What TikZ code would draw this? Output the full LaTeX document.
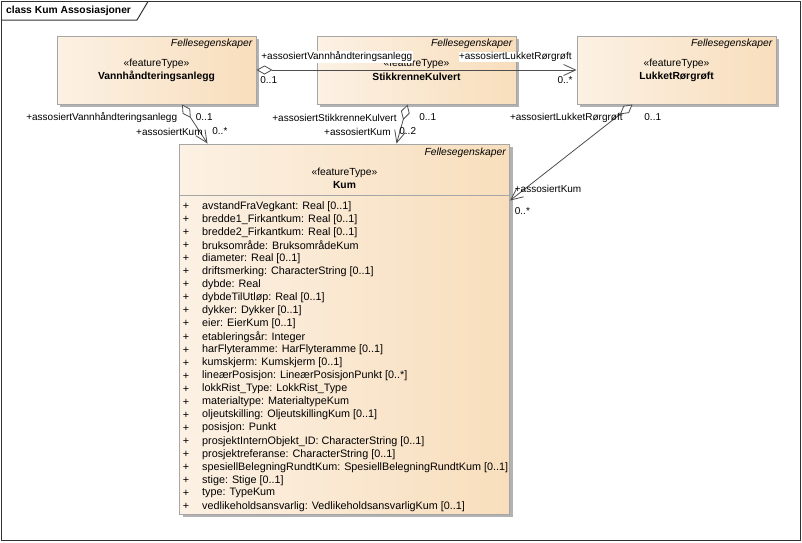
\documentclass[tikz,border=0pt]{standalone}
\usepackage{fontspec}
\setmainfont{Liberation Sans}
\usepackage{tikz}
\usetikzlibrary{positioning,arrows.meta,shadows}

\definecolor{boxleft}{HTML}{FCF1E4}
\definecolor{boxright}{HTML}{F8DEBC}
\definecolor{boxline}{HTML}{A6A6A6}
\definecolor{assocline}{HTML}{4D4D4D}
\newcommand\umlfont{\fontsize{10.3}{12}\selectfont}
\newcommand\attrfont{\fontsize{10.8}{12}\selectfont}
\newcommand\rolefont{\fontsize{10}{12}\selectfont}

\tikzset{
  umlbox/.style={draw=boxline, line width=1pt, left color=boxleft, right color=boxright,
    minimum width=199pt, minimum height=68pt, inner sep=0pt,
    drop shadow={shadow xshift=3pt, shadow yshift=-3pt, fill=black!30, opacity=1}},
  group/.style={font=\umlfont\itshape, anchor=east, inner sep=0pt},
  stereo/.style={inner sep=0pt},
  classname/.style={font=\umlfont\bfseries, inner sep=0pt},
  attrib/.style={font=\attrfont, inner sep=0pt},
  assoc/.style={draw=assocline, line width=0.8pt,
    arrows={Diamond[length=16pt,width=9pt,fill=white]-Straight Barb[length=12pt,width=11pt]}},
  role/.style={font=\rolefont, inner sep=0.5pt},
  rolebg/.style={role, fill=white},
  frameline/.style={draw=black!80, line width=1pt}
}

\begin{document}
\begin{tikzpicture}[x=1pt,y=1pt,node distance=260pt,on grid,font=\umlfont]
  \useasboundingbox (0,0) rectangle (802,-542);
  \draw[frameline] (1.5,-1.5) rectangle (800.5,-540.5);
  \draw[frameline] (1.5,-20) -- (137,-20) -- (148,-1.5);
  \node[anchor=west, font=\umlfont\bfseries, inner sep=0pt] (title) at (6,-11) {class Kum Assosiasjoner};

  \node[umlbox] (vann) at (156.5,-70) {};
  \node[umlbox] (stikk) [right=of vann] {};
  \node[umlbox] (lukket) [right=of stikk] {};
  \node[umlbox, minimum width=330pt, minimum height=370pt, anchor=north] (kum)
    at ([xshift=-72pt,yshift=-39pt]stikk.south) {};

  \foreach \cls/\clsname in {vann/Vannhåndteringsanlegg, stikk/StikkrenneKulvert, lukket/LukketRørgrøft} {
    \node[group] (\cls Group) at ([xshift=-4pt,yshift=-8pt]\cls.north east) {Fellesegenskaper};
    \node[stereo] (\cls Stereo) at ([yshift=-28pt]\cls.north) {«featureType»};
    \node[classname] (\cls Name) at ([yshift=-41pt]\cls.north) {\clsname};
  }

  \node[group] (kumGroup) at ([xshift=-4pt,yshift=-9pt]kum.north east) {Fellesegenskaper};
  \node[stereo] (kumStereo) at ([yshift=-29pt]kum.north) {«featureType»};
  \node[classname] (kumName) at ([yshift=-41pt]kum.north) {Kum};
  \draw[draw=boxline, line width=1pt] ([yshift=-52pt]kum.north west) -- ([yshift=-52pt]kum.north east);

  \foreach \attr [count=\i] in {avstandFraVegkant: Real [0..1], bredde1\_Firkantkum: Real [0..1],
      bredde2\_Firkantkum: Real [0..1], bruksområde: BruksområdeKum, diameter: Real [0..1],
      driftsmerking: CharacterString [0..1], dybde: Real, dybdeTilUtløp: Real [0..1],
      dykker: Dykker [0..1], eier: EierKum [0..1], etableringsår: Integer,
      harFlyteramme: HarFlyteramme [0..1], kumskjerm: Kumskjerm [0..1],
      lineærPosisjon: LineærPosisjonPunkt [0..*], lokkRist\_Type: LokkRist\_Type,
      materialtype: MaterialtypeKum, oljeutskilling: OljeutskillingKum [0..1],
      posisjon: Punkt, prosjektInternObjekt\_ID: CharacterString [0..1],
      prosjektreferanse: CharacterString [0..1],
      spesiellBelegningRundtKum: SpesiellBelegningRundtKum [0..1], stige: Stige [0..1],
      type: TypeKum, vedlikeholdsansvarlig: VedlikeholdsansvarligKum [0..1]} {
    \node[attrib] (plus\i) at ([xshift=7pt,yshift={-63pt-13.04pt*(\i-1)}]kum.north west) {+};
    \node[attrib, anchor=west] (attr\i) at ([xshift=23pt,yshift={-63pt-13.04pt*(\i-1)}]kum.north west) {\attr};
  }

  \draw[assoc] (vann.east) -- (lukket.west)
    node[rolebg, pos=0, anchor=west, xshift=4pt, yshift=13pt] (roleVannTop) {+assosiertVannhåndteringsanlegg}
    node[role, pos=0, anchor=west, xshift=3pt, yshift=-10pt] (multVannTop) {0..1}
    node[rolebg, pos=1, anchor=east, xshift=-4pt, yshift=13pt] (roleLukketTop) {+assosiertLukketRørgrøft}
    node[role, pos=1, anchor=east, xshift=-3pt, yshift=-10pt] (multLukketTop) {0..*};

  \draw[assoc] ([xshift=25.5pt]vann.south) -- ([xshift=-137pt]kum.north)
    node[role, pos=0, anchor=east, xshift=-4pt, yshift=-13pt] (roleVann) {+assosiertVannhåndteringsanlegg}
    node[role, pos=0, anchor=west, xshift=13pt, yshift=-13pt] (multVann) {0..1}
    node[role, pos=1, anchor=east, xshift=-4pt, yshift=12pt] (roleKumA) {+assosiertKum}
    node[role, pos=1, anchor=west, xshift=4pt, yshift=12pt] (multKumA) {0..*};

  \draw[assoc] ([xshift=-9pt]stikk.south) -- ([xshift=52pt]kum.north)
    node[role, pos=0, anchor=east, xshift=-10pt, yshift=-13pt] (roleStikk) {+assosiertStikkrenneKulvert}
    node[role, pos=0, anchor=west, xshift=11pt, yshift=-13pt] (multStikk) {0..1}
    node[role, pos=1, anchor=east, xshift=-5pt, yshift=12pt] (roleKumB) {+assosiertKum}
    node[role, pos=1, anchor=west, xshift=2pt, yshift=12pt] (multKumB) {0..2};

  \draw[assoc] ([xshift=-44pt]lukket.south) -- ([yshift=-57pt]kum.north east)
    node[role, pos=0, anchor=east, xshift=-9pt, yshift=-13pt] (roleLukket) {+assosiertLukketRørgrøft}
    node[role, pos=0, anchor=west, xshift=11pt, yshift=-13pt] (multLukket) {0..1}
    node[role, pos=1, anchor=west, xshift=4pt, yshift=12pt] (roleKumC) {+assosiertKum}
    node[role, pos=1, anchor=west, xshift=4pt, yshift=-11pt] (multKumC) {0..*};
\end{tikzpicture}
\end{document}
